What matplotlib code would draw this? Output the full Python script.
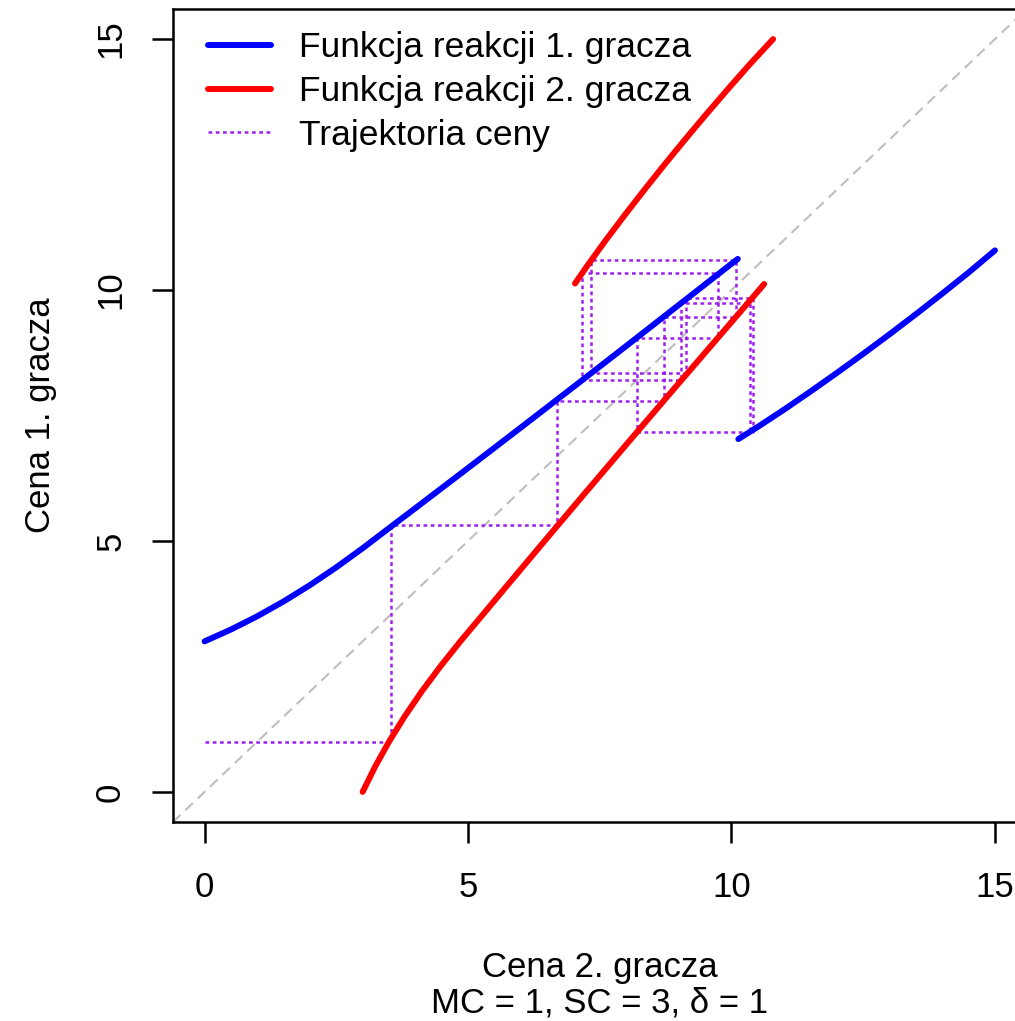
import matplotlib
matplotlib.use("Agg")
import matplotlib.pyplot as plt

plt.rcParams["font.family"] = ["Liberation Sans", "DejaVu Sans"]

# best response of a player to the rival's price
# lower branch (rival price below the jump) and upper branch (after the jump)
br_low_rival = [0.0, 0.5, 1.0, 1.5, 2.0, 2.5, 3.0, 3.54, 4.0, 5.0, 6.0,
                7.0, 8.0, 9.0, 10.0, 10.12]
br_low_price = [3.00, 3.235, 3.50, 3.795, 4.12, 4.475, 4.855, 5.287, 5.653,
                6.453, 7.258, 8.068, 8.883, 9.703, 10.523, 10.62]
br_high_rival = [10.13, 10.5, 11.0, 11.5, 12.0, 12.5, 13.0, 13.5, 14.0,
                 14.5, 15.0]
br_high_price = [7.03, 7.274, 7.619, 7.979, 8.349, 8.729, 9.119, 9.519,
                 9.929, 10.349, 10.79]

# alternating prices: even entries are player 1 (y), odd entries player 2 (x)
price_path = [1.00, 3.54, 5.31, 6.68, 7.78, 8.72, 9.47, 10.09, 10.60, 7.34,
              8.35, 9.14, 9.85, 10.41, 7.18, 8.21, 9.04, 9.74, 10.33, 7.16,
              8.21, 9.05, 9.74, 10.35, 7.18]
path_start_x = 0.0

ticks = [0, 5, 10, 15]
labels = ["Funkcja reakcji 1. gracza", "Funkcja reakcji 2. gracza", "Trajektoria ceny"]


def build_path(seq, x0):
    xs, ys = [x0], [seq[0]]
    for i, p in enumerate(seq[1:], start=1):
        if i % 2 == 1:
            xs.append(p)
            ys.append(ys[-1])
        else:
            xs.append(xs[-1])
            ys.append(p)
    return xs, ys


fig = plt.figure(figsize=(10.15, 10.21), dpi=100)
ax = fig.add_axes([0.1704, 0.1949, 0.841, 0.7963])
ax.set_xlim(-0.6, 15.6)
ax.set_ylim(-0.6, 15.6)

ax.plot([-0.6, 15.6], [-0.6, 15.6], color="#BEBEBE", lw=1.5,
        linestyle=(0, (5, 3.2)))

tx, ty = build_path(price_path, path_start_x)
ax.plot(tx, ty, color="#A020F0", lw=1.8, linestyle=(0, (1.5, 1.4)),
        label=labels[2])

kw = dict(lw=4.3, solid_capstyle="round")
ax.plot(br_low_rival, br_low_price, color="blue", label=labels[0], **kw)
ax.plot(br_high_rival, br_high_price, color="blue", **kw)
ax.plot(br_low_price, br_low_rival, color="red", label=labels[1], **kw)
ax.plot(br_high_price, br_high_rival, color="red", **kw)

handles, labs = ax.get_legend_handles_labels()
order = [labs.index(l) for l in labels]
ax.legend([handles[i] for i in order], labels, loc="upper left",
          bbox_to_anchor=(0.024, 0.99), frameon=False, fontsize=25.5,
          handlelength=1.8, handletextpad=0.78, labelspacing=0.3,
          borderaxespad=0.0)

for s in ax.spines.values():
    s.set_linewidth(1.8)
ax.set_xticks(ticks)
ax.set_yticks(ticks)
ax.tick_params(axis="both", length=15, width=1.8, labelsize=25)
ax.tick_params(axis="x", pad=20)
ax.tick_params(axis="y", pad=18, labelrotation=90)
for t in ax.get_yticklabels():
    t.set_va("center")

ax.set_xlabel("Cena 2. gracza\nMC = 1, SC = 3, δ = 1", fontsize=25,
              linespacing=1.1, labelpad=34)
ax.set_ylabel("Cena 1. gracza", fontsize=25, labelpad=27)

fig.savefig("out.png", dpi=100)
